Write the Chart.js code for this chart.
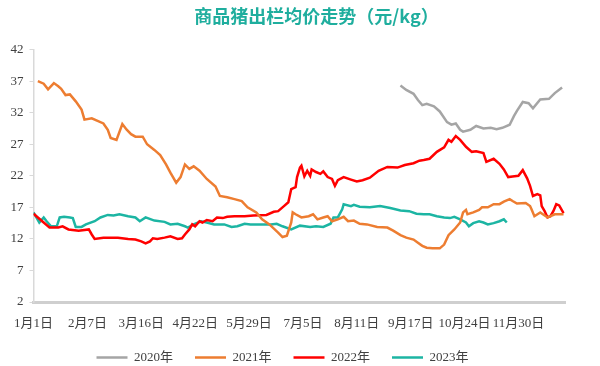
<!DOCTYPE html>
<html>
<head>
<meta charset="utf-8">
<script src="https://cdn.jsdelivr.net/npm/chart.js@4"></script>
<style>
  html, body { margin: 0; padding: 0; background: #fff; }
  #wrap { width: 600px; height: 366px; }
</style>
</head>
<body>
<div id="wrap"><canvas id="priceChart"></canvas></div>
<script>
// x = day of year (0 = 1月1日), y = 元/kg
const tickDays = [0, 37, 74, 111, 148, 185, 222, 259, 296, 333];
const tickLabels = ['1月1日', '2月7日', '3月16日', '4月22日', '5月29日', '7月5日', '8月11日', '9月17日', '10月24日', '11月30日'];

const days2020 = [252, 256, 261, 264, 267, 270, 275, 279, 284, 287, 290, 293, 295, 300, 304, 309, 314, 318, 322, 327, 330, 332, 336, 340, 343, 348, 354, 358, 363];
const price2020 = [36.3, 35.6, 35.0, 34.0, 33.2, 33.4, 33.0, 32.2, 30.5, 30.1, 30.3, 29.3, 29.0, 29.3, 29.9, 29.5, 29.6, 29.4, 29.6, 30.1, 31.5, 32.3, 33.7, 33.5, 32.7, 34.1, 34.2, 35.1, 36.0];

const days2021 = [3, 7, 10, 14, 17, 19, 22, 25, 29, 33, 35, 40, 44, 48, 51, 53, 57, 61, 64, 67, 70, 75, 78, 83, 87, 91, 94, 98, 101, 104, 107, 110, 114, 119, 125, 128, 133, 138, 143, 147, 153, 157, 162, 168, 171, 174, 177, 178, 180, 184, 189, 192, 195, 199, 202, 205, 209, 213, 216, 220, 224, 229, 236, 243, 247, 252, 256, 261, 264, 267, 270, 274, 279, 282, 285, 289, 293, 295, 297, 298, 302, 306, 308, 312, 316, 320, 323, 327, 329, 332, 338, 341, 342, 344, 348, 353, 358, 364];
const price2021 = [37.0, 36.6, 35.7, 36.7, 36.2, 35.8, 34.8, 34.9, 33.8, 32.5, 30.9, 31.1, 30.7, 30.3, 29.3, 28.0, 27.7, 30.2, 29.3, 28.6, 28.2, 28.2, 27.0, 26.1, 25.3, 23.8, 22.5, 20.9, 21.8, 23.8, 23.1, 23.5, 22.8, 21.5, 20.3, 18.8, 18.6, 18.3, 18.0, 17.0, 16.2, 15.1, 14.3, 13.0, 12.3, 12.5, 14.6, 16.2, 15.9, 15.4, 15.6, 15.9, 15.1, 15.4, 15.6, 14.8, 15.1, 15.5, 14.8, 14.9, 14.4, 14.3, 13.9, 13.8, 13.3, 12.6, 12.2, 11.9, 11.4, 10.9, 10.6, 10.5, 10.5, 11.1, 12.6, 13.5, 14.6, 16.2, 16.6, 15.9, 16.2, 16.6, 17.0, 17.0, 17.5, 17.5, 17.9, 18.3, 18.0, 17.6, 17.7, 17.2, 16.7, 15.6, 16.2, 15.4, 15.9, 15.9];

const days2022 = [0, 3, 7, 11, 17, 20, 24, 31, 38, 40, 42, 48, 58, 65, 70, 74, 77, 80, 82, 85, 90, 94, 99, 102, 104, 107, 109, 111, 114, 116, 119, 123, 126, 130, 133, 138, 145, 151, 160, 165, 168, 172, 175, 177, 180, 181, 183, 184, 186, 188, 190, 191, 194, 197, 199, 202, 205, 207, 209, 213, 218, 222, 226, 231, 237, 243, 250, 255, 261, 265, 268, 272, 277, 282, 285, 287, 290, 293, 297, 301, 304, 309, 311, 316, 320, 323, 326, 329, 333, 336, 339, 341, 343, 346, 348, 349, 351, 353, 355, 357, 359, 361, 364];
const price2022 = [16.0, 15.4, 14.6, 13.8, 13.8, 14.0, 13.5, 13.3, 13.5, 12.7, 12.0, 12.2, 12.2, 12.0, 11.9, 11.6, 11.3, 11.6, 12.1, 12.0, 12.2, 12.4, 12.0, 12.1, 12.7, 13.5, 14.3, 14.0, 14.8, 14.6, 15.0, 14.8, 15.4, 15.3, 15.5, 15.6, 15.6, 15.7, 15.8, 16.3, 16.4, 17.2, 17.8, 19.9, 20.2, 21.8, 23.3, 23.6, 21.9, 22.8, 22.0, 23.0, 22.6, 22.3, 22.7, 21.8, 21.5, 20.4, 21.3, 21.8, 21.4, 21.1, 21.3, 21.7, 22.8, 23.4, 23.3, 23.7, 24.0, 24.4, 24.5, 24.7, 25.8, 26.5, 27.7, 27.4, 28.3, 27.7, 26.6, 25.8, 25.9, 25.6, 24.2, 24.7, 23.9, 23.0, 21.8, 21.9, 22.0, 22.9, 21.6, 20.4, 18.8, 19.1, 18.9, 17.2, 16.4, 15.4, 15.6, 16.4, 17.5, 17.3, 16.1];

const days2023 = [0, 4, 7, 9, 12, 16, 18, 21, 25, 27, 29, 33, 36, 42, 46, 51, 55, 59, 65, 70, 73, 77, 83, 90, 94, 99, 104, 106, 110, 115, 119, 124, 131, 136, 140, 145, 149, 156, 163, 167, 171, 177, 183, 190, 194, 199, 204, 206, 209, 212, 213, 218, 220, 224, 231, 238, 245, 252, 258, 263, 268, 272, 277, 282, 286, 289, 293, 297, 299, 302, 306, 309, 312, 316, 320, 323, 325];
const price2023 = [16.2, 14.6, 15.4, 14.8, 14.0, 14.0, 15.4, 15.5, 15.4, 15.3, 13.9, 13.9, 14.3, 14.8, 15.4, 15.8, 15.7, 15.9, 15.6, 15.4, 14.8, 15.4, 14.9, 14.7, 14.3, 14.4, 14.0, 13.8, 14.3, 14.8, 14.6, 14.3, 14.3, 13.9, 14.0, 14.4, 14.3, 14.3, 14.3, 14.4, 14.0, 13.5, 14.1, 13.9, 14.0, 13.9, 14.4, 15.4, 15.4, 16.7, 17.5, 17.2, 17.4, 17.1, 17.0, 17.2, 16.9, 16.5, 16.4, 16.0, 15.9, 15.9, 15.6, 15.4, 15.3, 15.5, 15.1, 14.6, 14.0, 14.5, 14.8, 14.6, 14.3, 14.5, 14.8, 15.1, 14.6];

const seriesNames = ['2020年', '2021年', '2022年', '2023年'];
const seriesColors = ['#a5a5a5', '#ed7d31', '#ff0000', '#1cb5a3'];

const toPoints = (days, prices) => days.map((d, i) => ({ x: d, y: prices[i] }));
const seriesData = [
    toPoints(days2020, price2020),
    toPoints(days2021, price2021),
    toPoints(days2022, price2022),
    toPoints(days2023, price2023)
];

const textColor = '#404040';
const axisFont = { family: "'Liberation Serif', 'Noto Sans CJK SC', serif", size: 13 };

// the original title sits a bit right of centre
const titleShift = {
    id: 'titleShift',
    afterLayout(chart) {
        if (chart.titleBlock) {
            chart.titleBlock.left += 34;
            chart.titleBlock.right += 34;
        }
    }
};

new Chart(document.getElementById('priceChart'), {
    type: 'line',
    data: {
        datasets: seriesNames.map((name, i) => ({
            label: name,
            data: seriesData[i],
            borderColor: seriesColors[i],
            backgroundColor: seriesColors[i],
            borderWidth: 2.5,
            pointRadius: 0,
            tension: 0,
            fill: false
        }))
    },
    plugins: [titleShift],
    options: {
        responsive: true,
        maintainAspectRatio: false,
        animation: false,
        // legend sits a little lower than the default box allows
        layout: { padding: { left: 0, right: 35, top: 0, bottom: -8 } },
        plugins: {
            title: {
                display: true,
                text: '商品猪出栏均价走势（元/kg）',
                color: '#1fae9e',
                font: { family: "'Noto Sans CJK SC'", size: 18, weight: 'bold' },
                padding: { top: 5, bottom: 23 }
            },
            legend: {
                position: 'bottom',
                labels: {
                    color: textColor,
                    font: axisFont,
                    usePointStyle: true,
                    pointStyle: 'line',
                    pointStyleWidth: 31,
                    padding: 22
                }
            },
            tooltip: { enabled: false }
        },
        scales: {
            x: {
                type: 'linear',
                min: 0,
                max: 365,
                afterBuildTicks: (scale) => { scale.ticks = tickDays.map(v => ({ value: v })); },
                ticks: {
                    autoSkip: false,
                    maxRotation: 0,
                    color: textColor,
                    font: axisFont,
                    padding: 14,
                    callback: (v) => tickLabels[tickDays.indexOf(v)]
                },
                grid: { drawOnChartArea: false, drawTicks: false },
                border: { color: '#cfcfcf', width: 3, dash: [2, 1] },
                afterFit: (scale) => { scale.height = 27; }
            },
            y: {
                min: 2,
                max: 42,
                ticks: { stepSize: 5, color: textColor, font: axisFont, padding: 6 },
                grid: { drawOnChartArea: false, drawTicks: true, tickLength: 4, color: '#d9d9d9' },
                border: { color: '#d9d9d9', width: 1.5 },
                afterFit: (scale) => { scale.width = 30; }
            }
        }
    }
});
</script>
</body>
</html>
